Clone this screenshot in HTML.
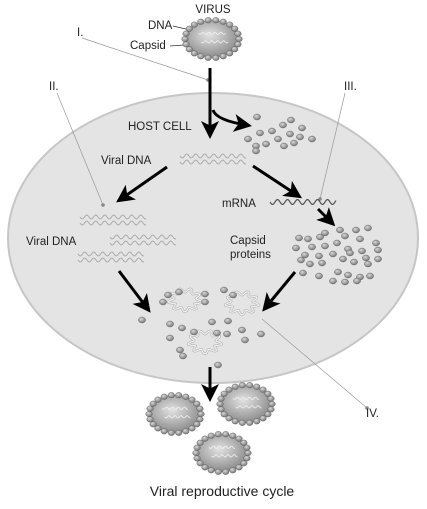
<!DOCTYPE html>
<html><head><meta charset="utf-8"><style>
html,body{margin:0;padding:0;background:#fff;width:427px;height:509px;overflow:hidden}
svg{display:block}
text{font-family:"Liberation Sans",sans-serif;fill:#222}
</style></head><body>
<svg id="s" width="427" height="509" viewBox="0 0 427 509">
<defs>
<radialGradient id="vg" cx="0.45" cy="0.4" r="0.6"><stop offset="0" stop-color="#e2e2e2"/><stop offset="1" stop-color="#8a8a8a"/></radialGradient>
<radialGradient id="bg" cx="0.4" cy="0.35" r="0.7"><stop offset="0" stop-color="#d8d8d8"/><stop offset="1" stop-color="#707070"/></radialGradient>
<marker id="ah" markerWidth="6" markerHeight="6" refX="4" refY="3" orient="auto" markerUnits="strokeWidth"><path d="M0,0 L6,3 L0,6 L1.5,3 z" fill="#000"/></marker>
</defs>
<ellipse cx="213" cy="238" rx="205" ry="145" fill="#e4e4e4" stroke="#c6c6c6" stroke-width="2"/>
<g id="g"></g>
<g font-size="11.5">
<text x="213" y="13" text-anchor="middle">VIRUS</text>
<text x="148" y="29">DNA</text>
<text x="130" y="49">Capsid</text>
<text x="77" y="36">I.</text>
<text x="49" y="90">II.</text>
<text x="344" y="90">III.</text>
<text x="128" y="130">HOST CELL</text>
<text x="101" y="164">Viral DNA</text>
<text x="222" y="207">mRNA</text>
<text x="26" y="245">Viral DNA</text>
<text x="230" y="244">Capsid</text>
<text x="230" y="258">proteins</text>
<text x="366" y="417">IV.</text>
<text x="222" y="496" font-size="14" text-anchor="middle">Viral reproductive cycle</text>
</g>
</svg>
<script>
const NS="http://www.w3.org/2000/svg";
const g=document.getElementById('g');
function el(t,a){const e=document.createElementNS(NS,t);for(const k in a)e.setAttribute(k,a[k]);g.appendChild(e);return e;}
function wave(x,y,w,amp,per,col,sw){let d="M"+x+","+y;for(let i=1;i<=w;i++)d+=" L"+(x+i)+","+(y+amp*Math.sin(i*2*Math.PI/per)).toFixed(2);return el('path',{d:d,fill:'none',stroke:col,'stroke-width':sw});}
const leaders=[[82,38,208,80,'leader-i'],[57,93,103,205,'leader-ii'],[345,93,320,199,'leader-iii'],[262,319,367,408,'leader-iv']];
leaders.forEach(l=>{const e=el('line',{x1:l[0],y1:l[1],x2:l[2],y2:l[3],stroke:'#999','stroke-width':0.7});


el('circle',{cx:l[2],cy:l[3],r:1.8,fill:'#888'});});
el('line',{x1:173,y1:26,x2:190,y2:30,stroke:'#333','stroke-width':0.7});
el('line',{x1:170,y1:46,x2:184,y2:45,stroke:'#333','stroke-width':0.7});
function virus(cx,cy,rx,ry,name){const grp=el('g',{});


const c=document.createElementNS(NS,'ellipse');c.setAttribute('cx',cx);c.setAttribute('cy',cy);c.setAttribute('rx',rx);c.setAttribute('ry',ry);c.setAttribute('fill','url(#vg)');grp.appendChild(c);
[[-0.5,-0.3],[-0.4,0.15]].forEach(o=>{const p=wave(cx+o[0]*rx,cy+o[1]*ry,rx*1.0,1.2,6,'#f2f2f2',0.8);grp.appendChild(p);});
const n=22;for(let i=0;i<n;i++){const a=i*2*Math.PI/n;const b=document.createElementNS(NS,'ellipse');b.setAttribute('cx',cx+rx*Math.cos(a));b.setAttribute('cy',cy+ry*Math.sin(a));b.setAttribute('rx',3.3);b.setAttribute('ry',2.8);b.setAttribute('fill','url(#bg)');b.setAttribute('stroke','#555');b.setAttribute('stroke-width',0.4);grp.appendChild(b);}}
virus(212,39,27,19,'virus-top');virus(175,414,26,19,'virus-new-1');virus(246,404,26,19,'virus-new-2');virus(222,453,26,19,'virus-new-3');
[[180,156,66],[180,162,66],[80,217,66],[80,223,66],[110,237,66],[110,243,66],[78,254,66],[78,260,66]].forEach(w=>wave(w[0],w[1],w[2],2,9,'#aaa',1));
wave(270,202,66,2.5,10,'#555',1.2);
[[185,300],[242,303],[205,342]].forEach(p=>{let d="";for(let i=0;i<=60;i++){const a=i/60*2*Math.PI;const rr=14+3*Math.sin(a*9);d+=(i?" L":"M")+(p[0]+rr*Math.cos(a)).toFixed(1)+","+(p[1]+rr*0.7*Math.sin(a)).toFixed(1);}
el('path',{d:d,fill:'none',stroke:'#bbb','stroke-width':2.5});el('path',{d:d,fill:'none',stroke:'#f4f4f4','stroke-width':1});});
const dots=[[257,117],[291,120],[283,125],[302,128],[248,139],[260,133],[272,131],[278,139],[290,134],[300,137],[312,139],[256,146],[266,144],[284,146],[294,143],[256,151],
[325,233],[340,230],[356,230],[368,228],[299,238],[308,239],[320,237],[345,236],[360,239],[376,243],[296,248],[312,247],[325,246],[337,243],[348,249],[362,251],[378,250],[305,255],[319,256],[333,254],[350,253],[366,258],[301,260],[310,264],[322,263],[343,259],[354,262],[368,264],[378,259],[303,273],[319,276],[338,272],[348,275],[360,277],[370,276],[333,281],[345,282],[357,281],
[168,295],[179,292],[163,302],[205,294],[224,290],[233,295],[205,302],[142,320],[170,324],[182,328],[212,322],[228,321],[194,332],[217,333],[227,334],[242,330],[261,334],[170,338],[245,340],[180,350],[183,356],[218,365]];
dots.forEach(d=>{el('ellipse',{cx:d[0],cy:d[1],rx:3.6,ry:3,fill:'url(#bg)',stroke:'#555','stroke-width':0.4});});
const arrows=[["M210,68 L210,133",'arrow-entry'],["M213,110 Q216,120 246,125",'arrow-to-proteins'],["M167,167 L121,199",'arrow-replication'],["M253,166 L297,195",'arrow-transcription'],["M318,209 L331,222",'arrow-translation'],["M119,271 L147,308",'arrow-dna-assembly'],["M295,272 L266,307",'arrow-capsid-assembly'],["M210,367 L210,396",'arrow-release']];
arrows.forEach(a=>{const e=el('path',{d:a[0],fill:'none',stroke:'#000','stroke-width':3,'marker-end':'url(#ah)'});

});
</script>
</body></html>
